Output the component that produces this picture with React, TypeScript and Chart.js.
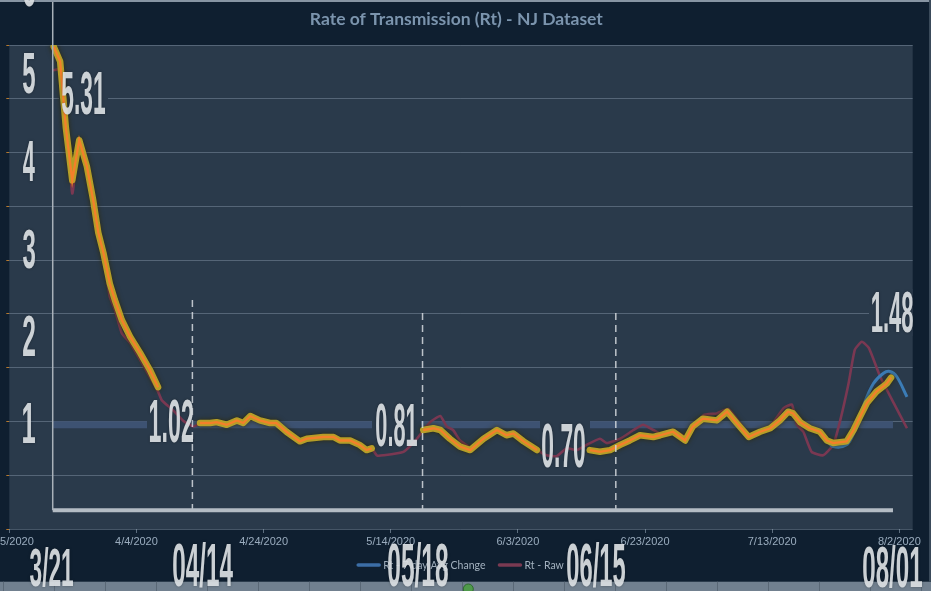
import React, { useEffect, useRef } from "react";
import { Chart, registerables } from "chart.js";

Chart.register(...registerables);

// ---------- data ----------
const START_DATE = new Date(2020, 2, 15); // day 0 = 3/15/2020
const X_MIN = 0;
const X_MAX = 142.1;
const Y_MIN = -0.214;
const Y_MAX = 5.33;

// Rt - Raw (day offset from 3/15/2020, value)
const rawDays = [
  6.8, 8.3, 9.9, 11.0, 12.2, 13.2, 14.0, 14.8, 15.8, 16.6, 17.7, 19.0, 20.6, 22.1, 23.4, 24.0, 25.7, 27.3, 28.9,
  30.0, 31.6, 32.6, 34.2, 35.8, 36.8, 37.9, 39.4, 41.0, 42.0, 43.6, 45.7, 46.8, 49.4, 51.0, 52.0, 53.6, 55.1, 56.2,
  57.0, 57.8, 58.8, 62.0, 64.0, 66.2, 67.8, 68.8, 69.8, 70.9, 72.9, 74.5, 76.7, 78.2, 79.8, 81.4, 83.5, 84.5, 86.1,
  87.7, 89.3, 90.8, 92.9, 94.0, 96.1, 98.2, 99.7, 101.3, 102.4, 104.4, 106.6, 109.2, 111.3, 113.1, 114.9, 116.5,
  118.1, 119.7, 121.8, 123.1, 123.9, 124.9, 126.2, 128.0, 129.6, 130.7, 132.0, 133.0, 134.1, 135.2, 137.0, 139.1, 141.2,
];
const rawValues = [
  5.04, 5.05, 3.63, 4.24, 3.9, 3.5, 3.12, 2.9, 2.45, 2.3, 2.03, 1.92, 1.72, 1.53, 1.36, 1.26, 1.15, 1.03, 0.96,
  0.99, 1.0, 1.02, 0.98, 1.03, 1.0, 1.09, 1.04, 1.01, 1.0, 0.91, 0.8, 0.83, 0.85, 0.85, 0.81, 0.8, 0.75, 0.7,
  0.71, 0.63, 0.63, 0.67, 0.81, 1.01, 1.08, 0.96, 0.92, 0.8, 0.71, 0.82, 0.92, 0.88, 0.88, 0.77, 0.67, 0.63, 0.62,
  0.71, 0.69, 0.75, 0.82, 0.77, 0.82, 0.92, 0.98, 0.92, 0.88, 0.92, 0.84, 1.09, 1.11, 1.16, 1.0, 0.86,
  0.9, 0.96, 1.17, 1.21, 0.98, 0.9, 0.67, 0.63, 0.75, 1.03, 1.45, 1.84, 1.93, 1.86, 1.53, 1.23, 0.94,
];

// Rt - 7 day Avg Change (null = hidden gap)
const avgDays = [
  7.0, 8.0, 8.9, 9.9, 11.0, 12.2, 13.2, 14.0, 14.8, 15.8, 16.6, 17.7, 19.0, 20.6, 22.1, 23.4, 26.0,
  30.0, 31.6, 32.6, 34.2, 35.8, 36.8, 37.9, 39.4, 41.0, 42.0, 43.6, 45.7, 46.8, 49.4, 51.0, 52.0, 53.6, 55.1, 56.2, 57.0, 60.0,
  65.1, 66.7, 67.8, 69.3, 70.9, 72.5, 74.6, 76.7, 78.2, 79.3, 80.9, 83.0, 87.0,
  91.3, 92.9, 94.5, 96.1, 97.6, 99.2, 101.3, 102.4, 104.4, 106.3, 107.5, 109.1, 111.3, 112.9, 114.4, 116.3, 118.1,
  119.7, 121.2, 122.5, 123.3, 124.4, 125.9, 127.5, 128.6, 129.6, 131.7, 132.8, 134.3, 135.9, 137.5, 138.5, 139.6, 141.2,
];
const avgValues = [
  5.31, 5.14, 4.38, 3.78, 4.24, 3.94, 3.55, 3.18, 2.95, 2.6, 2.41, 2.18, 1.99, 1.8, 1.61, 1.41, null,
  1.0, 1.0, 1.01, 0.98, 1.03, 1.0, 1.08, 1.03, 1.0, 1.0, 0.9, 0.79, 0.82, 0.84, 0.84, 0.8, 0.8, 0.75, 0.69, 0.71, null,
  0.92, 0.94, 0.92, 0.82, 0.73, 0.69, 0.82, 0.92, 0.86, 0.88, 0.79, 0.69, null,
  0.69, 0.67, 0.69, 0.75, 0.8, 0.86, 0.84, 0.86, 0.9, 0.8, 0.96, 1.05, 1.03, 1.13, 1.0, 0.84, 0.9,
  0.94, 1.03, 1.13, 1.11, 1.01, 0.94, 0.9, 0.8, 0.73, 0.75, 0.88, 1.19, 1.45, 1.57, 1.59, 1.53, 1.3,
];

// highlighted trace drawn over the average (yellow glow + orange line)
const traceDays = [
  7.0, 8.0, 8.9, 9.9, 11.0, 12.2, 13.2, 14.0, 14.8, 15.8, 16.6, 17.7, 19.0, 20.6, 22.1, 23.4, 26.0,
  30.0, 31.6, 32.6, 34.2, 35.8, 36.8, 37.9, 39.4, 41.0, 42.0, 43.6, 45.7, 46.8, 49.4, 51.0, 52.0, 53.6, 55.1, 56.2, 57.0, 60.0,
  65.1, 66.7, 67.8, 69.3, 70.9, 72.5, 74.6, 76.7, 78.2, 79.3, 80.9, 83.0, 87.0,
  91.3, 92.9, 94.5, 96.1, 97.6, 99.2, 101.3, 102.4, 104.4, 106.3, 107.5, 109.1, 111.3, 112.9, 114.4, 116.3, 118.1,
  119.7, 121.2, 122.5, 123.3, 124.4, 125.9, 127.5, 128.6, 129.6, 131.7, 132.8, 133.8, 134.9, 136.4, 138.0, 138.7,
];
const traceValues = [
  5.31, 5.14, 4.38, 3.78, 4.24, 3.94, 3.55, 3.18, 2.95, 2.6, 2.41, 2.18, 1.99, 1.8, 1.61, 1.41, null,
  1.0, 1.0, 1.01, 0.98, 1.03, 1.0, 1.08, 1.03, 1.0, 1.0, 0.9, 0.79, 0.82, 0.84, 0.84, 0.8, 0.8, 0.75, 0.69, 0.71, null,
  0.92, 0.94, 0.92, 0.82, 0.73, 0.69, 0.82, 0.92, 0.86, 0.88, 0.79, 0.69, null,
  0.69, 0.67, 0.69, 0.75, 0.8, 0.86, 0.84, 0.86, 0.9, 0.8, 0.96, 1.05, 1.03, 1.13, 1.0, 0.84, 0.9,
  0.94, 1.03, 1.13, 1.11, 1.01, 0.94, 0.9, 0.8, 0.77, 0.79, 0.92, 1.07, 1.23, 1.36, 1.45, 1.52,
];

// overlay annotations
const callouts = ["5.31", "1.02", "0.81", "0.70", "1.48"];
const dateCallouts = ["3/21", "04/14", "05/18", "06/15", "08/01"];
const overlayAxisNumbers = [1, 2, 3, 4, 5, 6];
const markerDays = [28.8, 65.0, 95.4];
const markerTopValues = [2.41, 2.26, 2.26];
const OVERLAY_AXIS_DAY = 6.83;
const OVERLAY_END_DAY = 139.0;
const BAND_VALUE = 0.98;

// ---------- layout / style (pixels) ----------
const W = 931;
const H = 591;
const OUTER_BG = "#0f1f30";
const PLOT_BG = "#2a3a4b";
const calloutBoxes = [
  { x: 62, y: 72, w: 43, h: 43, box: [59, 69, 49, 49] },
  { x: 150, y: 400, w: 43, h: 43, box: [147, 397, 46, 49] },
  { x: 376, y: 403, w: 41, h: 44, box: [372, 400, 49, 50] },
  { x: 542, y: 423, w: 43, h: 45, box: [540, 420, 50, 51] },
  { x: 872, y: 292, w: 41, h: 41, box: [869, 289, 47, 47] },
];
const dateBoxes = [
  { x: 30, y: 547, w: 43, h: 40 },
  { x: 173, y: 541, w: 60, h: 46 },
  { x: 388, y: 541, w: 60, h: 46 },
  { x: 567, y: 541, w: 58, h: 46 },
  { x: 863, y: 545, w: 59, h: 43 },
];

function dayLabel(v: number) {
  const d = new Date(START_DATE.getTime());
  d.setDate(d.getDate() + Math.round(v));
  return `${d.getMonth() + 1}/${d.getDate()}/${d.getFullYear()}`;
}

function toPoints(days: number[], vals: (number | null)[]) {
  return days.map((d, i) => ({ x: d, y: vals[i] }));
}

function drawFitText(ctx: CanvasRenderingContext2D, text: string, left: number, top: number, w: number, h: number) {
  ctx.save();
  ctx.font = 'bold 100px "Liberation Sans", Arial, sans-serif';
  ctx.textAlign = "left";
  ctx.textBaseline = "alphabetic";
  const m = ctx.measureText(text);
  const asc = m.actualBoundingBoxAscent;
  const desc = Math.max(0, m.actualBoundingBoxDescent);
  const inkW = m.actualBoundingBoxLeft + m.actualBoundingBoxRight;
  ctx.translate(left, top);
  ctx.scale(w / inkW, h / (asc + desc));
  ctx.fillText(text, m.actualBoundingBoxLeft, asc);
  ctx.restore();
}

const overlayPlugin = {
  id: "overlay",
  beforeDraw(chart: any) {
    const { ctx, chartArea: a } = chart;
    ctx.save();
    ctx.fillStyle = OUTER_BG;
    ctx.fillRect(0, 0, W, H);
    ctx.fillStyle = PLOT_BG;
    ctx.fillRect(a.left, a.top, a.right - a.left, a.bottom - a.top);
    ctx.restore();
  },
  beforeDatasetsDraw(chart: any) {
    const { ctx, chartArea: a } = chart;
    const xs = chart.scales.x;
    const ys = chart.scales.y;
    ctx.save();
    const yb = ys.getPixelForValue(BAND_VALUE);
    const x0 = xs.getPixelForValue(OVERLAY_AXIS_DAY);
    const x1 = xs.getPixelForValue(OVERLAY_END_DAY);
    ctx.fillStyle = "#3d5272";
    ctx.fillRect(x0, yb - 3.5, x1 - x0, 7);
    ctx.beginPath();
    ctx.rect(a.left, a.top, a.right - a.left, a.bottom - a.top);
    ctx.clip();
    ctx.fillStyle = PLOT_BG;
    calloutBoxes.forEach((c) => ctx.fillRect(c.box[0], c.box[1], c.box[2], c.box[3]));
    ctx.restore();
  },
  beforeDatasetDraw(chart: any, args: any) {
    const ds = chart.data.datasets[args.index];
    if (ds.glow) {
      chart.ctx.save();
      chart.ctx.shadowColor = "rgba(45,40,0,0.9)";
      chart.ctx.shadowBlur = 5;
    }
  },
  afterDatasetDraw(chart: any, args: any) {
    const ds = chart.data.datasets[args.index];
    if (ds.glow) chart.ctx.restore();
  },
  afterDatasetsDraw(chart: any) {
    const { ctx } = chart;
    const xs = chart.scales.x;
    const ys = chart.scales.y;
    const xAxis = xs.getPixelForValue(OVERLAY_AXIS_DAY);
    const xEnd = xs.getPixelForValue(OVERLAY_END_DAY);
    const yZero = ys.getPixelForValue(0);
    ctx.save();
    ctx.strokeStyle = "rgba(215,220,225,0.85)";
    ctx.lineWidth = 1.5;
    ctx.setLineDash([7, 5]);
    markerDays.forEach((d, i) => {
      const x = xs.getPixelForValue(d);
      ctx.beginPath();
      ctx.moveTo(x, ys.getPixelForValue(markerTopValues[i]));
      ctx.lineTo(x, yZero);
      ctx.stroke();
    });
    ctx.setLineDash([]);
    ctx.strokeStyle = "#b4bcc4";
    ctx.lineWidth = 4;
    ctx.beginPath();
    ctx.moveTo(xAxis, yZero);
    ctx.lineTo(xEnd, yZero);
    ctx.stroke();
    ctx.strokeStyle = "#a9b1b9";
    ctx.lineWidth = 1.5;
    ctx.beginPath();
    ctx.moveTo(xAxis, 0);
    ctx.lineTo(xAxis, yZero);
    ctx.stroke();
    ctx.restore();
  },
  afterDraw(chart: any) {
    const { ctx } = chart;
    const ys = chart.scales.y;
    ctx.save();
    ctx.fillStyle = "#8795a3";
    ctx.fillRect(0, 0, W, 2);
    ctx.fillStyle = "#71808f";
    ctx.fillRect(0, 581.7, W, H - 581.7);
    ctx.fillStyle = "#5a6876";
    for (let x = 3; x < W; x += 51) ctx.fillRect(x, 581.7, 1, H - 581.7);
    ctx.fillStyle = "#3a4a5a";
    ctx.fillRect(929, 0, 2, 581.7);
    ctx.beginPath();
    ctx.arc(468.3, 589, 5, 0, Math.PI * 2);
    ctx.fillStyle = "#4f9a4a";
    ctx.fill();
    ctx.strokeStyle = "#2f6a30";
    ctx.lineWidth = 1;
    ctx.stroke();

    // legend
    const items = chart.data.datasets.filter((d: any) => d.inLegend);
    ctx.font = '10.5px Lato, "Liberation Sans", sans-serif';
    ctx.textBaseline = "middle";
    const sample = 25;
    const gapT = 2;
    const gapI = 12;
    let total = 0;
    items.forEach((d: any, i: number) => {
      total += sample + gapT + ctx.measureText(d.label).width + (i < items.length - 1 ? gapI : 0);
    });
    let lx = 460 - total / 2;
    const ly = 565;
    items.forEach((d: any) => {
      ctx.strokeStyle = d.legendColor;
      ctx.lineWidth = 3.5;
      ctx.lineCap = "round";
      ctx.beginPath();
      ctx.moveTo(lx + 2, ly);
      ctx.lineTo(lx + sample - 2, ly);
      ctx.stroke();
      lx += sample + gapT;
      ctx.fillStyle = "#a3b1bf";
      ctx.fillText(d.label, lx, ly + 0.5);
      lx += ctx.measureText(d.label).width + gapI;
    });

    // big overlay text
    ctx.fillStyle = "rgba(224,228,232,0.9)";
    ctx.shadowColor = "rgba(0,0,0,0.35)";
    ctx.shadowBlur = 3;
    overlayAxisNumbers.forEach((n) => {
      const cy = ys.getPixelForValue(n);
      drawFitText(ctx, String(n), 23, cy - 20, 12, 40);
    });
    callouts.forEach((t, i) => {
      const c = calloutBoxes[i];
      drawFitText(ctx, t, c.x, c.y, c.w, c.h);
    });
    dateCallouts.forEach((t, i) => {
      const c = dateBoxes[i];
      drawFitText(ctx, t, c.x, c.y, c.w, c.h);
    });
    ctx.restore();
  },
};

export default function App() {
  const ref = useRef<HTMLCanvasElement | null>(null);

  useEffect(() => {
    document.body.style.margin = "0";
    const canvas = ref.current;
    if (!canvas) return;
    // datasets listed top-most first (Chart.js paints the first dataset last)
    const chart = new Chart(canvas, {
      type: "line",
      data: {
        datasets: [
          {
            label: "trace",
            data: toPoints(traceDays, traceValues),
            borderColor: "#f47f2a",
            borderWidth: 2.3,
            pointRadius: 0,
            tension: 0,
            spanGaps: false,
          } as any,
          {
            label: "highlight",
            data: toPoints(traceDays, traceValues),
            borderColor: "rgba(196,170,40,0.9)",
            borderWidth: 6.5,
            pointRadius: 0,
            tension: 0,
            spanGaps: false,
            borderJoinStyle: "round",
            borderCapStyle: "round",
            glow: true,
          } as any,
          {
            label: "Rt - 7 day Avg Change",
            data: toPoints(avgDays, avgValues),
            borderColor: "#3b7cb6",
            borderWidth: 3,
            pointRadius: 0,
            tension: 0.35,
            spanGaps: false,
            inLegend: true,
            legendColor: "#3c6ea6",
          } as any,
          {
            label: "Rt - Raw",
            data: toPoints(rawDays, rawValues),
            borderColor: "#7a3852",
            borderWidth: 2.6,
            pointRadius: 0,
            tension: 0.15,
            inLegend: true,
            legendColor: "#7a3a52",
          } as any,
        ],
      },
      options: {
        animation: false,
        responsive: false,
        maintainAspectRatio: false,
        layout: { padding: { left: 0, right: 18.3, top: 0, bottom: 0 } },
        plugins: {
          legend: { display: false },
          tooltip: { enabled: false },
          title: {
            display: true,
            text: "Rate of Transmission (Rt) - NJ Dataset",
            color: "#7b94ad",
            font: { family: 'Lato, "Liberation Sans", sans-serif', size: 17.5, weight: "bold", lineHeight: 1.2 },
            padding: { top: 9, bottom: 15 },
          },
        },
        scales: {
          x: {
            type: "linear",
            min: X_MIN,
            max: X_MAX,
            border: { display: false },
            grid: { drawOnChartArea: false, drawTicks: true, tickLength: 4, color: "#5c6d7e" },
            ticks: {
              stepSize: 20,
              includeBounds: false,
              autoSkip: false,
              maxRotation: 0,
              padding: 2,
              color: "#9aacbe",
              font: { family: '"Liberation Sans", Arial, sans-serif', size: 11 },
              callback: (v: any) => dayLabel(Number(v)),
            },
            afterFit: (s: any) => {
              s.height = 62;
              s.paddingLeft = 0;
              s.paddingRight = 0;
            },
          },
          y: {
            type: "linear",
            min: Y_MIN,
            max: Y_MAX,
            border: { display: false },
            grid: { color: "rgba(150,168,186,0.4)", drawTicks: true, tickLength: 3, tickColor: "#b5782e" },
            ticks: { display: false, count: 10 },
            afterFit: (s: any) => {
              s.width = 9.3;
              s.paddingTop = 0;
              s.paddingBottom = 0;
            },
          },
        },
      } as any,
      plugins: [overlayPlugin as any],
    });
    return () => chart.destroy();
  }, []);

  return (
    <div style={{ position: "fixed", left: 0, top: 0, width: W, height: H }}>
      <canvas ref={ref} width={W} height={H} style={{ width: W, height: H, display: "block" }} />
    </div>
  );
}
